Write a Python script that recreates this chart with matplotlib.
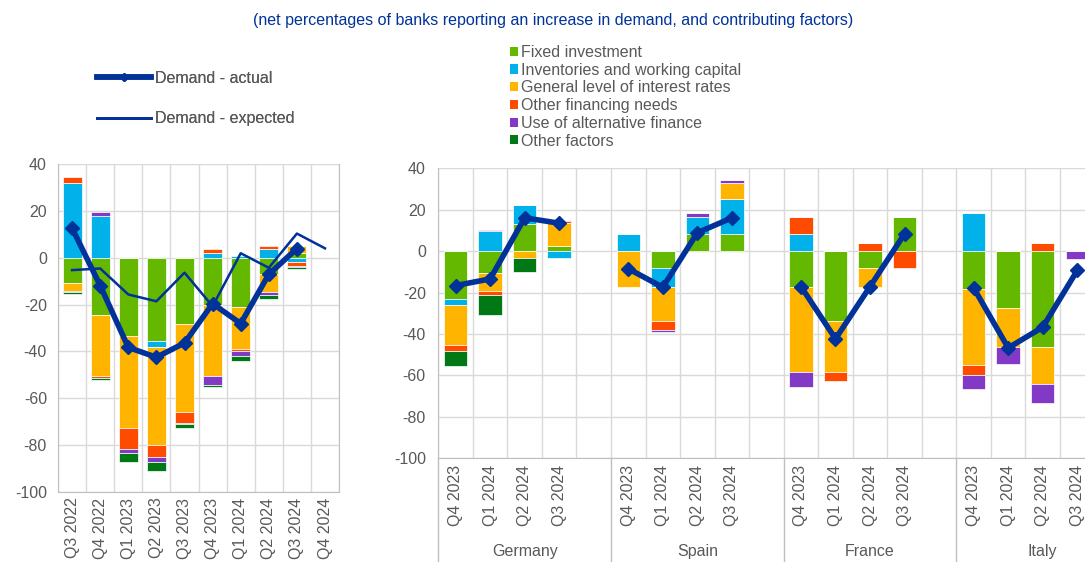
"""
Loan demand by banks: euro area panel plus the four largest countries.
Output: out.png
"""
import matplotlib

matplotlib.use("Agg")
import matplotlib.pyplot as plt
import numpy as np
from matplotlib.lines import Line2D
from matplotlib.patches import Patch

plt.rcParams["font.family"] = ["Liberation Sans", "DejaVu Sans"]
plt.rcParams["axes.unicode_minus"] = False

# --- euro area panel ---
EA_QUARTERS = ["Q3 2022", "Q4 2022", "Q1 2023", "Q2 2023", "Q3 2023",
               "Q4 2023", "Q1 2024", "Q2 2024", "Q3 2024", "Q4 2024"]
EA_FIXED = [-11.0, -24.6, -33.3, -35.7, -28.3, -20.0, -21.1, -6.9, 1.9]
EA_INVENT = [32.0, 17.9, 0.0, -2.6, 0.0, 1.9, 0.8, 3.6, -1.9]
EA_RATES = [-3.3, -25.8, -39.6, -41.7, -37.4, -30.7, -17.9, -7.8, 3.3]
EA_OTHFIN = [2.3, -1.0, -8.8, -5.0, -5.0, 1.7, -1.0, 1.5, -1.7]
EA_ALTFIN = [-0.5, 1.7, -1.6, -2.1, -0.4, -3.6, -2.1, -1.4, -0.5]
EA_OTHER = [-0.6, -1.0, -3.8, -3.9, -1.7, -1.0, -2.1, -1.7, -0.6]
EA_ACTUAL = [12.6, -11.9, -38.3, -42.5, -36.4, -19.6, -28.1, -7.1, 3.9]
EA_EXPECTED = [-5.3, -4.6, -15.7, -18.6, -6.4, -20.7, 1.9, -4.3, 10.3, 4.0]

# --- country panel (Germany, Spain, France, Italy; 4 quarters each) ---
COUNTRIES = ["Germany", "Spain", "France", "Italy"]
CTY_QUARTERS = ["Q4 2023", "Q1 2024", "Q2 2024", "Q3 2024"]
CTY_FIXED = [-23.3, -10.3, 12.9, 2.7,
             0.0, -8.2, 8.4, 8.4,
             -17.1, -33.8, -8.2, 16.4,
             -18.5, -27.5, -46.3, 0.0]
CTY_INVENT = [-2.9, 9.7, 9.6, -3.2,
              8.4, -8.9, 8.0, 16.6,
              8.4, 0.0, 0.0, 0.0,
              18.3, 0.0, 0.0, 0.0]
CTY_RATES = [-19.3, -9.0, -3.2, 10.8,
             -17.1, -16.7, 0.0, 8.0,
             -41.4, -24.6, -8.9, 0.0,
             -36.4, -18.8, -17.7, 0.0]
CTY_OTHFIN = [-2.9, -2.0, 0.0, 1.0,
              0.0, -4.2, 0.0, 0.0,
              8.0, -4.3, 4.0, -8.2,
              -5.1, 0.0, 4.0, 0.0]
CTY_ALTFIN = [0.0, 0.6, 0.0, 0.6,
              0.0, -1.1, 1.9, 1.6,
              -6.9, 0.0, 0.0, 0.0,
              -6.5, -8.4, -9.2, -3.7]
CTY_OTHER = [-6.8, -9.7, -6.9, 0.0,
             0.0, 0.0, 0.0, 0.0,
             0.0, 0.0, 0.0, 0.0,
             0.0, 0.0, 0.0, 0.0]
CTY_ACTUAL = [-16.6, -13.4, 16.1, 13.5,
              -8.5, -17.4, 8.9, 16.1,
              -17.1, -42.3, -17.1, 8.4,
              -17.7, -46.7, -36.7, -9.3]

FACTOR_LABELS = ["Fixed investment", "Inventories and working capital",
                 "General level of interest rates", "Other financing needs",
                 "Use of alternative finance", "Other factors"]
FACTOR_COLORS = ["#65B800", "#00B1EA", "#FFB400", "#FF4B00", "#8139C6", "#007816"]

NAVY = "#003299"
TXT = "#595959"
GRID = "#d9d9d9"
FS = 11.5


def stacked(ax, x, series):
    pos = np.zeros(len(x))
    neg = np.zeros(len(x))
    for vals, col in zip(series, FACTOR_COLORS):
        vals = np.asarray(vals, dtype=float)
        bottom = np.where(vals >= 0, pos, neg)
        ax.bar(x, vals, bottom=bottom, width=0.68, color=col,
               edgecolor="white", linewidth=0.5, zorder=2)
        pos += np.clip(vals, 0, None)
        neg += np.clip(vals, None, 0)


def style(ax, xlim, pad_y):
    ax.set_ylim(-100, 40)
    ax.set_yticks(range(-100, 41, 20))
    ax.set_xlim(*xlim)
    ax.set_xticks(np.arange(xlim[0], xlim[1] + 0.01, 1.0), minor=True)
    ax.grid(axis="y", which="major", color=GRID, lw=1, zorder=0)
    ax.grid(axis="x", which="minor", color=GRID, lw=1, zorder=0)
    ax.tick_params(axis="both", which="both", length=0, colors=TXT,
                   labelsize=FS)
    ax.tick_params(axis="y", pad=pad_y)
    for s in ax.spines.values():
        s.set_color("#bfbfbf")
    ax.spines["top"].set_visible(False)
    ax.set_axisbelow(True)


def main() -> None:
    fig = plt.figure(figsize=(10.85, 5.62), dpi=100)
    fig.patch.set_facecolor("white")

    fig.text(0.51, 0.964,
             "(net percentages of banks reporting an increase in demand, and contributing factors)",
             ha="center", va="center", color=NAVY, fontsize=FS)

    # --- euro area ---
    ax1 = fig.add_axes([0.0535, 0.1246, 0.259, 0.5836])
    x1 = np.arange(len(EA_FIXED))
    stacked(ax1, x1, [EA_FIXED, EA_INVENT, EA_RATES, EA_OTHFIN, EA_ALTFIN, EA_OTHER])
    ax1.plot(np.arange(len(EA_EXPECTED)), EA_EXPECTED, color=NAVY, lw=1.8, zorder=3)
    ax1.plot(x1, EA_ACTUAL, color=NAVY, lw=4, marker="D", ms=7, zorder=4)
    style(ax1, (-0.5, len(EA_QUARTERS) - 0.5), 8)
    ax1.set_xticks(np.arange(len(EA_QUARTERS)))
    ax1.set_xticklabels(EA_QUARTERS, rotation=90)
    ax1.tick_params(axis="x", pad=4)

    # --- countries ---
    ax2 = fig.add_axes([0.404, 0.1845, 0.6366, 0.516])
    slot = len(CTY_QUARTERS) + 1
    x2 = np.array([g * slot + i for g in range(len(COUNTRIES))
                   for i in range(len(CTY_QUARTERS))])
    stacked(ax2, x2, [CTY_FIXED, CTY_INVENT, CTY_RATES, CTY_OTHFIN, CTY_ALTFIN, CTY_OTHER])
    n = len(CTY_QUARTERS)
    for g in range(len(COUNTRIES)):
        ax2.plot(x2[g * n:(g + 1) * n], CTY_ACTUAL[g * n:(g + 1) * n],
                 color=NAVY, lw=4, marker="D", ms=7, zorder=4)
    style(ax2, (-0.5, len(COUNTRIES) * slot - 0.5), 9)
    ax2.set_xticks(x2)
    ax2.set_xticklabels(CTY_QUARTERS * len(COUNTRIES), rotation=90)
    ax2.tick_params(axis="x", pad=5)

    tr = ax2.get_xaxis_transform()
    for g, name in enumerate(COUNTRIES):
        ax2.plot([g * slot - 0.5] * 2, [0, -0.45], transform=tr, color="#bfbfbf",
                 lw=1, clip_on=False)
        ax2.text(g * slot + (slot - 1) / 2, -0.32, name, transform=tr,
                 ha="center", va="center", color=TXT, fontsize=FS)

    # --- legends ---
    line_handles = [
        Line2D([], [], color=NAVY, lw=4, marker="D", ms=4),
        Line2D([], [], color=NAVY, lw=2),
    ]
    leg1 = fig.legend(line_handles, ["Demand - actual", "Demand - expected"],
                      loc="upper left", bbox_to_anchor=(0.089, 0.874),
                      frameon=False, fontsize=FS, labelcolor=TXT,
                      handlelength=3.4, handletextpad=0.25, labelspacing=1.6,
                      borderpad=0, borderaxespad=0)
    fig.add_artist(leg1)

    patch_handles = [Patch(facecolor=c) for c in FACTOR_COLORS]
    fig.legend(patch_handles, FACTOR_LABELS, loc="upper left",
               bbox_to_anchor=(0.470, 0.92), frameon=False, fontsize=FS,
               labelcolor=TXT, handlelength=0.5, handleheight=0.5,
               handletextpad=0.2, labelspacing=0.17, borderpad=0,
               borderaxespad=0)

    fig.savefig("out.png", dpi=100, facecolor="white")
    plt.close(fig)


if __name__ == "__main__":
    main()
